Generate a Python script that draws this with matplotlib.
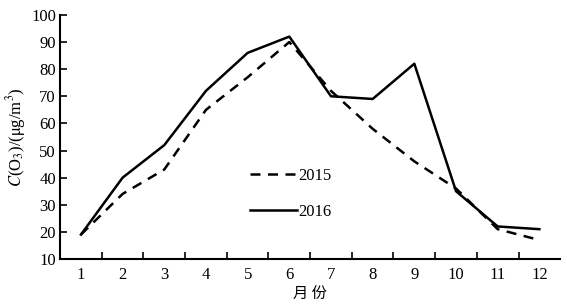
import numpy as np
import matplotlib.pyplot as plt

months = np.arange(1, 13)
o3_2015 = [19, 34, 43, 65, 77, 90, 72, 58, 46, 36, 21, 17]
o3_2016 = [19, 40, 52, 72, 86, 92, 70, 69, 82, 35, 22, 21]

plt.rcParams['font.family'] = ['Liberation Serif', 'Noto Sans CJK SC']
plt.rcParams['mathtext.fontset'] = 'stix'

fig = plt.figure(figsize=(5.67, 3.04), dpi=100)
ax = fig.add_axes([0.106, 0.148, 0.882, 0.803])

ax.plot(months, o3_2015, 'k--', lw=1.8, dashes=(4, 3), label='2015')
ax.plot(months, o3_2016, 'k-', lw=1.8, label='2016')

ax.set_xlim(0.5, 12.5)
ax.set_ylim(10, 100)
ax.set_yticks(np.arange(10, 101, 10))
ax.set_xticks(months)
ax.tick_params(axis='x', which='major', length=0, labelsize=12, pad=6)
ax.set_xticks(np.arange(1.5, 12, 1), minor=True)
ax.tick_params(axis='x', which='minor', direction='in', length=5, width=1.2)
ax.tick_params(axis='y', direction='in', length=5, width=1.2, labelsize=12, pad=3)

for s in ['top', 'right']:
    ax.spines[s].set_visible(False)
for s in ['left', 'bottom']:
    ax.spines[s].set_linewidth(1.5)

ax.set_xlabel('月 份', family='Noto Sans CJK SC', fontsize=11, labelpad=2)
ax.set_ylabel(r'$C$(O$_3$)/($\mathrm{\mu}$g/m$^3$)', fontsize=12, labelpad=2)

ax.legend(loc='center left', bbox_to_anchor=(0.35, 0.265), frameon=False,
          handlelength=2.8, handletextpad=0.1, labelspacing=1.2, fontsize=12)

fig.savefig('out.png')
